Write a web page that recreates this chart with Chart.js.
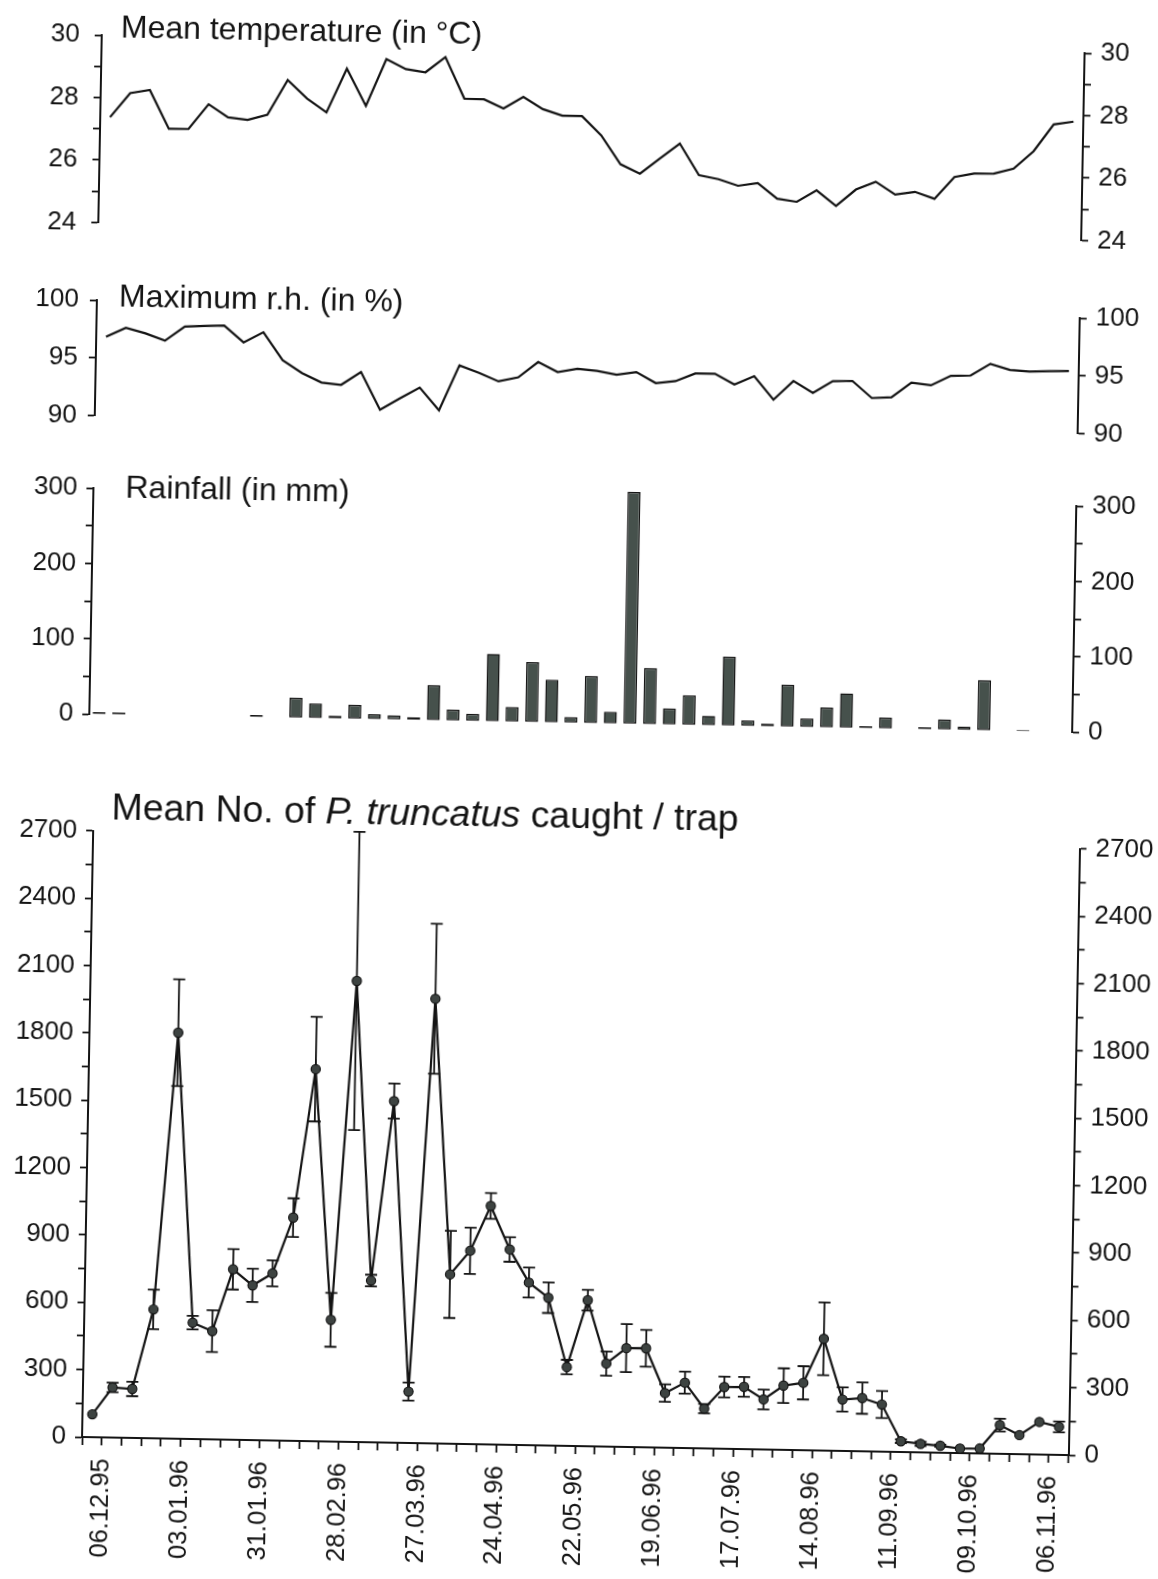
<!DOCTYPE html>
<html>
<head>
<meta charset="utf-8">
<title>Weather and P. truncatus trap catches</title>
<script src="https://cdn.jsdelivr.net/npm/chart.js@4.4.1/dist/chart.umd.min.js"></script>
<style>
    html, body { margin: 0; padding: 0; background: #fff; overflow: hidden; }
    /* the scanned figure sits slightly tilted on the page */
    #page { position: relative; width: 1158px; height: 1579px; transform: rotate(1.05deg); transform-origin: 579px 789.5px; }
    #page canvas { position: absolute; left: 0; }
</style>
</head>
<body>
<div id="page">
    <canvas id="tempChart" width="1158" height="262" style="top:0px"></canvas>
    <canvas id="rhChart" width="1158" height="190" style="top:262px"></canvas>
    <canvas id="rainChart" width="1158" height="300" style="top:452px"></canvas>
    <canvas id="catchChart" width="1158" height="827" style="top:752px"></canvas>
</div>
<script>
// --- 1. Data (one value per weekly sampling date) ---
const weeks = ['06.12.95', '13.12.95', '20.12.95', '27.12.95', '03.01.96', '10.01.96', '17.01.96', '24.01.96',
    '31.01.96', '07.02.96', '14.02.96', '21.02.96', '28.02.96', '06.03.96', '13.03.96', '20.03.96',
    '27.03.96', '03.04.96', '10.04.96', '17.04.96', '24.04.96', '01.05.96', '08.05.96', '15.05.96',
    '22.05.96', '29.05.96', '05.06.96', '12.06.96', '19.06.96', '26.06.96', '03.07.96', '10.07.96',
    '17.07.96', '24.07.96', '31.07.96', '07.08.96', '14.08.96', '21.08.96', '28.08.96', '04.09.96',
    '11.09.96', '18.09.96', '25.09.96', '02.10.96', '09.10.96', '16.10.96', '23.10.96', '30.10.96',
    '06.11.96', '13.11.96'];
const dateLabels = ['06.12.95', '03.01.96', '31.01.96', '28.02.96', '27.03.96', '24.04.96', '22.05.96',
    '19.06.96', '17.07.96', '14.08.96', '11.09.96', '09.10.96', '06.11.96'];

const meanTemp = [27.38, 28.16, 28.27, 27.04, 27.05, 27.85, 27.44, 27.37, 27.55, 28.67,
    28.09, 27.66, 29.07, 27.89, 29.40, 29.09, 29.00, 29.50, 28.18, 28.17,
    27.89, 28.27, 27.89, 27.69, 27.69, 27.08, 26.17, 25.88, 26.38, 26.87,
    25.87, 25.75, 25.55, 25.65, 25.16, 25.07, 25.45, 24.96, 25.50, 25.76,
    25.36, 25.46, 25.25, 25.96, 26.08, 26.09, 26.26, 26.83, 27.70, 27.80];

const maxRH = [96.84, 97.64, 97.20, 96.59, 97.85, 97.94, 98.00, 96.57, 97.48, 95.10,
    94.01, 93.22, 93.05, 94.20, 90.96, 91.97, 92.94, 91.00, 94.92, 94.30,
    93.60, 93.98, 95.34, 94.50, 94.82, 94.67, 94.37, 94.62, 93.70, 93.90,
    94.60, 94.60, 93.70, 94.45, 92.45, 94.10, 93.10, 94.15, 94.20, 92.75,
    92.85, 94.15, 93.95, 94.80, 94.85, 95.90, 95.40, 95.30, 95.35, 95.40];

const rainfall = [3, 3, null, null, null, null, null, null, 3, null,
    27, 20, 4, 19, 7, 6, 4, 47, 15, 10,
    90, 20, 80, 57, 8, 63, 16, 308, 75, 22,
    40, 13, 92, 8, 4, 56, 12, 27, 46, 3,
    15, null, 3, 14, 5, 67, null, 2, null, null];

const catchMean = [102, 223, 218, 574, 1808, 518, 482, 759, 689, 744,
    994, 1657, 542, 2053, 720, 1521, 229, 1980, 754, 861,
    1062, 870, 724, 658, 351, 650, 370, 440, 441, 243,
    291, 177, 275, 277, 223, 286, 300, 498, 229, 237,
    210, 48, 38, 31, 20, 22, 128, 85, 145, 125];

const catchSE = [0, 21, 32, 88, 238, 30, 93, 90, 74, 58,
    86, 233, 120, 664, 26, 78, 40, 334, 194, 103,
    57, 55, 67, 68, 32, 46, 54, 107, 82, 39,
    49, 21, 46, 44, 44, 77, 74, 162, 54, 70,
    60, 8, 9, 5, 0, 0, 28, 0, 0, 24];

// labelled ticks on each y axis (other ticks are drawn without text)
const tempLabels = [24, 26, 28, 30];
const rhLabels = [90, 95, 100];
const rainLabels = [0, 100, 200, 300];
const catchLabels = [0, 300, 600, 900, 1200, 1500, 1800, 2100, 2400, 2700];


// --- 2. Shared styling ---
const INK = '#141414';
const FONT = '"Liberation Sans", Arial, Helvetica, sans-serif';
Chart.defaults.font.family = FONT;
Chart.defaults.color = INK;

function yAxis(pos, min, max, step, shown, width, pad) {
    return {
        position: pos,
        min: min,
        max: max,
        afterFit: (scale) => { scale.width = width; },
        border: { display: true, color: INK, width: 2 },
        grid: { drawOnChartArea: false, drawTicks: true, tickLength: 7, tickColor: INK, tickWidth: 1.8 },
        ticks: {
            stepSize: step,
            autoSkip: false,
            padding: pad || 9,
            color: INK,
            font: { size: 26 },
            callback: (v) => shown.includes(v) ? String(v) : ''
        }
    };
}

// panel caption written inside the top-left of the plot
const panelTitle = {
    id: 'panelTitle',
    afterDraw(chart, args, opts) {
        const ctx = chart.ctx;
        const area = chart.chartArea;
        let x = area.left + opts.dx;
        const y = area.top + opts.dy;
        ctx.save();
        ctx.fillStyle = INK;
        ctx.textAlign = 'left';
        ctx.textBaseline = 'middle';
        opts.parts.forEach((p) => {
            ctx.font = (p.italic ? 'italic ' : '') + opts.size + 'px ' + FONT;
            ctx.fillText(p.text, x, y);
            x += ctx.measureText(p.text).width;
        });
        ctx.restore();
    }
};

// mean +/- SE whiskers for the trap catches
const errorBars = {
    id: 'errorBars',
    beforeDatasetsDraw(chart) {
        const xs = chart.scales.x;
        const ys = chart.scales.y;
        const ctx = chart.ctx;
        ctx.save();
        ctx.strokeStyle = INK;
        ctx.lineWidth = 1.8;
        catchMean.forEach((m, i) => {
            const se = catchSE[i];
            if (!se) return;
            const px = xs.getPixelForValue(i);
            const top = ys.getPixelForValue(m + se);
            const bot = ys.getPixelForValue(m - se);
            ctx.beginPath();
            ctx.moveTo(px, top); ctx.lineTo(px, bot);
            ctx.moveTo(px - 6, top); ctx.lineTo(px + 6, top);
            ctx.moveTo(px - 6, bot); ctx.lineTo(px + 6, bot);
            ctx.stroke();
        });
        ctx.restore();
    }
};

const hiddenX = { display: false, offset: true };


// --- 3. Mean temperature ---
new Chart(document.getElementById('tempChart'), {
    type: 'line',
    data: {
        labels: weeks,
        datasets: [{ data: meanTemp, borderColor: INK, borderWidth: 2.2, pointRadius: 0, tension: 0 }]
    },
    options: {
        responsive: false,
        animation: false,
        layout: { padding: { top: 44, bottom: 27.5, left: 0, right: 0 } },
        plugins: {
            legend: { display: false },
            tooltip: { enabled: false },
            panelTitle: { parts: [{ text: 'Mean temperature (in °C)' }], dx: 19, dy: -7, size: 32 }
        },
        scales: {
            x: hiddenX,
            y: yAxis('left', 24, 30, 1, tempLabels, 88, 15),
            y2: yAxis('right', 24, 30, 1, tempLabels, 87)
        }
    },
    plugins: [panelTitle]
});


// --- 4. Maximum relative humidity ---
new Chart(document.getElementById('rhChart'), {
    type: 'line',
    data: {
        labels: weeks,
        datasets: [{ data: maxRH, borderColor: INK, borderWidth: 2.2, pointRadius: 0, tension: 0 }]
    },
    options: {
        responsive: false,
        animation: false,
        layout: { padding: { top: 47, bottom: 27.5, left: 0, right: 0 } },
        plugins: {
            legend: { display: false },
            tooltip: { enabled: false },
            panelTitle: { parts: [{ text: 'Maximum r.h. (in %)' }], dx: 22, dy: -3, size: 32 }
        },
        scales: {
            x: hiddenX,
            y: yAxis('left', 90, 100, 5, rhLabels, 88, 11),
            y2: yAxis('right', 90, 100, 5, rhLabels, 87)
        }
    },
    plugins: [panelTitle]
});


// --- 5. Rainfall ---
new Chart(document.getElementById('rainChart'), {
    type: 'bar',
    data: {
        labels: weeks,
        datasets: [{
            data: rainfall,
            backgroundColor: '#46514c',
            borderColor: INK,
            borderWidth: 1.5,
            borderSkipped: false,
            barPercentage: 0.66,
            categoryPercentage: 1,
            clip: false
        }]
    },
    options: {
        responsive: false,
        animation: false,
        layout: { padding: { top: 45, bottom: 28.7, left: 0, right: 0 } },
        plugins: {
            legend: { display: false },
            tooltip: { enabled: false },
            panelTitle: { parts: [{ text: 'Rainfall (in mm)' }], dx: 32, dy: 0, size: 32 }
        },
        scales: {
            x: hiddenX,
            y: yAxis('left', 0, 300, 50, rainLabels, 88),
            y2: yAxis('right', 0, 300, 50, rainLabels, 87)
        }
    },
    plugins: [panelTitle]
});


// --- 6. Mean number of P. truncatus caught per trap ---
new Chart(document.getElementById('catchChart'), {
    type: 'line',
    data: {
        labels: weeks,
        datasets: [{
            data: catchMean,
            borderColor: INK,
            borderWidth: 2.2,
            tension: 0,
            pointRadius: 4.6,
            pointBackgroundColor: '#3d4341',
            pointBorderColor: INK,
            pointBorderWidth: 1.2
        }]
    },
    options: {
        responsive: false,
        animation: false,
        layout: { padding: { top: 87.7, bottom: 0, left: 0, right: 0 } },
        plugins: {
            legend: { display: false },
            tooltip: { enabled: false },
            panelTitle: {
                parts: [{ text: 'Mean No. of ' }, { text: 'P. truncatus', italic: true }, { text: ' caught / trap' }],
                dx: 18, dy: -22.5, size: 37.4
            }
        },
        scales: {
            x: {
                offset: true,
                afterFit: (scale) => { scale.height = 133; },
                border: { display: true, color: INK, width: 2 },
                grid: { offset: true, drawOnChartArea: false, drawTicks: true, tickLength: 8, tickColor: INK, tickWidth: 1.8 },
                ticks: {
                    autoSkip: false,
                    maxRotation: 90,
                    minRotation: 90,
                    padding: 13,
                    labelOffset: 10,
                    color: INK,
                    font: { size: 25.5 },
                    callback: (v, i) => dateLabels.includes(weeks[i]) ? weeks[i] : ''
                }
            },
            y: yAxis('left', 0, 2700, 150, catchLabels, 94),
            y2: yAxis('right', 0, 2700, 150, catchLabels, 77.5)
        }
    },
    plugins: [panelTitle, errorBars]
});
</script>
</body>
</html>
